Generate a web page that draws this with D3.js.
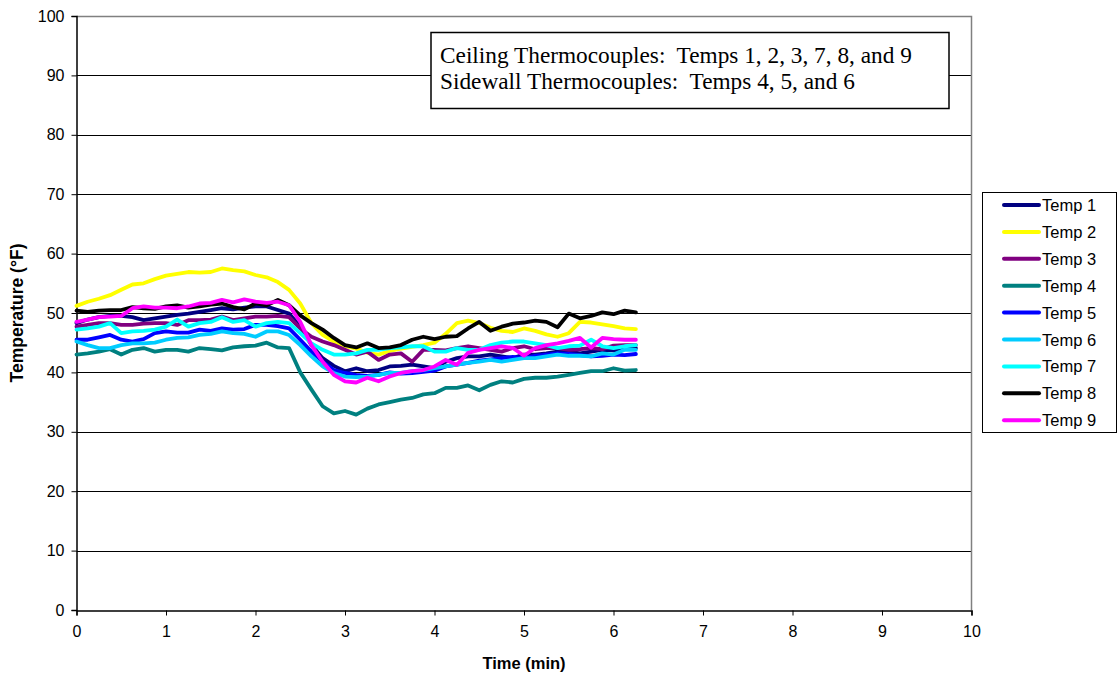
<!DOCTYPE html>
<html><head><meta charset="utf-8">
<script src="https://cdn.jsdelivr.net/npm/d3@7"></script>
<style>body{margin:0;background:#fff}svg{display:block}</style>
</head><body>
<svg id="c" width="1119" height="676"></svg>
<script>
const timeMin = [0,0.125,0.25,0.375,0.5,0.625,0.75,0.875,1,1.125,1.25,1.375,1.5,1.625,1.75,1.875,2,2.125,2.25,2.375,2.5,2.625,2.75,2.875,3,
  3.125,3.25,3.375,3.5,3.625,3.75,3.875,4,4.125,4.25,4.375,4.5,4.625,4.75,4.875,5,5.125,5.25,5.375,5.5,5.625,5.75,5.875,6,6.125,6.25];
const temp1 = [48.3,48.9,49.3,49.5,49.5,49.3,48.8,49.1,49.4,49.7,49.9,50.2,50.5,50.8,50.6,50.9,51.1,51.1,50.5,49.9,47.7,44.6,42.4,41.1,40.2,
  40.7,40.2,40.4,41.0,41.1,41.3,41.0,40.7,41.8,42.4,42.7,42.7,43.0,42.7,42.4,43.0,43.0,43.2,43.5,43.5,43.2,43.5,43.8,43.7,43.9,44.1];
const temp2 = [51.2,51.9,52.4,53.0,53.9,54.8,55.0,55.7,56.3,56.6,56.9,56.8,56.9,57.5,57.2,57.0,56.4,56.0,55.2,53.9,51.6,48.3,46.3,45.2,44.4,
  44.0,43.3,43.0,43.6,44.0,44.3,44.6,45.0,46.5,48.3,48.7,48.3,47.5,47.0,46.8,47.4,47.0,46.4,46.0,46.6,48.5,48.4,48.1,47.8,47.4,47.3];
const temp3 = [47.7,48.0,48.3,48.3,48.0,48.0,48.2,48.3,48.3,48.0,48.8,48.8,48.9,49.4,48.8,49.1,49.4,49.4,49.5,49.3,47.4,46.0,45.2,44.6,43.8,
  43.0,43.5,42.1,43.0,43.2,41.8,43.8,43.8,43.7,44.1,44.4,44.1,43.8,43.5,44.1,44.4,43.9,44.1,44.1,43.8,43.9,44.1,43.9,44.5,44.6,44.6];
const temp4 = [43.0,43.2,43.5,43.9,43.0,43.8,44.1,43.5,43.8,43.8,43.5,44.1,43.9,43.7,44.2,44.4,44.5,45.0,44.2,44.1,40.0,37.1,34.3,33.1,33.5,
  32.9,33.9,34.6,35.0,35.4,35.7,36.3,36.5,37.4,37.4,37.8,37.0,37.9,38.5,38.3,38.9,39.1,39.1,39.3,39.6,39.9,40.2,40.2,40.7,40.3,40.4];
const temp5 = [45.5,45.5,45.9,46.3,45.5,45.2,45.6,46.6,46.9,46.7,46.7,47.2,47.0,47.4,47.2,47.3,48.0,48.0,47.8,47.4,45.5,43.5,41.8,40.4,39.9,
  39.6,39.4,39.6,40.0,39.8,39.9,40.1,40.3,41.0,41.3,41.6,42.0,42.2,42.4,42.6,42.4,42.8,43.0,43.2,43.1,42.9,42.7,42.8,43.0,42.9,43.1];
const temp6 = [45.2,44.6,44.1,44.1,44.6,44.9,44.9,45.0,45.5,45.8,45.9,46.3,46.5,46.9,46.6,46.5,46.0,46.9,46.9,46.3,44.6,42.7,41.0,39.9,39.3,
  39.2,39.3,39.6,39.9,39.9,40.2,40.4,40.7,41.0,41.3,41.6,41.8,42.1,41.8,42.1,42.4,42.4,42.7,43.0,42.8,42.8,42.7,43.2,43.0,43.8,43.8];
const temp7 = [47.2,47.4,47.7,48.3,46.6,46.9,47.0,47.2,47.7,48.9,47.7,48.3,48.5,49.3,48.5,48.8,47.7,48.3,48.5,48.3,46.6,44.9,43.8,43.0,43.0,
  43.2,43.8,43.8,44.1,44.2,44.4,44.4,43.5,43.5,44.1,43.8,43.8,44.6,45.0,45.2,45.2,44.9,44.6,44.1,44.4,44.5,45.5,44.4,44.1,44.4,44.6];
const temp8 = [50.4,50.2,50.4,50.5,50.5,51.0,50.8,50.7,51.1,51.3,50.9,51.1,51.4,51.6,51.0,50.6,51.6,51.3,52.2,51.3,49.6,48.3,47.2,45.8,44.6,
  44.2,44.9,44.1,44.2,44.6,45.5,46.0,45.6,46.0,46.1,47.4,48.5,47.0,47.7,48.2,48.4,48.7,48.5,47.6,49.9,49.1,49.5,50.1,49.8,50.4,50.1];
const temp9 = [48.5,48.9,49.3,49.4,49.5,50.8,51.1,50.9,50.9,50.8,51.1,51.6,51.7,52.2,51.8,52.3,51.9,51.7,51.9,51.3,48.5,44.6,41.8,39.6,38.5,
  38.3,39.1,38.5,39.3,39.9,40.2,40.4,41.0,42.1,41.3,43.3,43.8,44.1,44.4,44.1,42.8,44.1,44.6,44.9,45.3,45.8,44.2,45.8,45.6,45.5,45.5];
const seriesNames = ["Temp 1","Temp 2","Temp 3","Temp 4","Temp 5","Temp 6","Temp 7","Temp 8","Temp 9"];
const seriesColors = ["#000080","#FFFF00","#800080","#008080","#0000FF","#00CCFF","#00FFFF","#000000","#FF00FF"];
const seriesValues = [temp1,temp2,temp3,temp4,temp5,temp6,temp7,temp8,temp9];
const xTicks = [0,1,2,3,4,5,6,7,8,9,10];
const yTicks = [0,10,20,30,40,50,60,70,80,90,100];
const noteLines = ["Ceiling Thermocouples:  Temps 1, 2, 3, 7, 8, and 9","Sidewall Thermocouples:  Temps 4, 5, and 6"];

const svg = d3.select("#c");
const L = 76.5, R = 971.5, T = 16, B = 610;
const x = d3.scaleLinear().domain([0,10]).range([L,R]);
const y = d3.scaleLinear().domain([0,100]).range([B,T]);
const font = "Arial, 'Liberation Sans', sans-serif";

// gridlines
svg.append("g").selectAll("line").data(yTicks.filter(v=>v>0 && v<100)).join("line")
  .attr("x1",L).attr("x2",R).attr("y1",d=>Math.round(y(d))+0.5).attr("y2",d=>Math.round(y(d))+0.5)
  .attr("stroke","#000").attr("stroke-width",1);
// plot border (top/right gray)
svg.append("path").attr("d",`M${L},${T+0.5}H${R}V${B}`).attr("fill","none").attr("stroke","#808080").attr("stroke-width",1.5);

// axes
const xAxis = svg.append("g").attr("transform",`translate(0,${B+0.5})`)
  .call(d3.axisBottom(x).tickValues(xTicks).tickSize(5).tickPadding(10).tickFormat(d3.format("d")));
const yAxis = svg.append("g").attr("transform",`translate(${L},0)`)
  .call(d3.axisLeft(y).tickValues(yTicks).tickSize(5).tickPadding(7).tickFormat(d3.format("d")));
[xAxis,yAxis].forEach(a=>{
  a.select(".domain").attr("stroke","#000").attr("stroke-width",1.5);
  a.selectAll(".tick line").attr("stroke","#000");
  a.selectAll("text").attr("font-family",font).attr("font-size",16).attr("fill","#000");
});

// lines
const line = d3.line().x((d,i)=>x(timeMin[i])).y(d=>y(d)).curve(d3.curveLinear);
svg.append("g").selectAll("path").data(seriesValues).join("path")
  .attr("d",line).attr("fill","none").attr("stroke",(d,i)=>seriesColors[i])
  .attr("stroke-width",3.8).attr("stroke-linejoin","round").attr("stroke-linecap","round");

// axis titles
svg.append("text").attr("x",(L+R)/2).attr("y",669).attr("text-anchor","middle")
  .attr("font-family",font).attr("font-size",16.5).attr("font-weight","bold").text("Time (min)");
svg.append("text").attr("transform",`translate(23,${(T+B)/2}) rotate(-90)`).attr("text-anchor","middle")
  .attr("font-family",font).attr("font-size",17.5).attr("font-weight","bold").text("Temperature (°F)");

// annotation box
const note = svg.append("g");
note.append("rect").attr("x",431).attr("y",32.5).attr("width",518).attr("height",76)
  .attr("fill","#fff").attr("stroke","#000").attr("stroke-width",1.5);
note.selectAll("text").data(noteLines).join("text")
  .attr("x",440).attr("y",(d,i)=>63+i*26).attr("font-family","'Liberation Serif','Times New Roman',serif")
  .attr("font-size",23.3).attr("fill","#000").style("white-space","pre").attr("xml:space","preserve").text(d=>d);

// legend
const lg = svg.append("g");
lg.append("rect").attr("x",982.5).attr("y",192.5).attr("width",134).attr("height",240)
  .attr("fill","#fff").attr("stroke","#000").attr("stroke-width",1);
const items = lg.selectAll("g").data(seriesNames).join("g")
  .attr("transform",(d,i)=>`translate(0,${205+i*26.9})`);
items.append("line").attr("x1",1004).attr("x2",1039).attr("y1",0).attr("y2",0)
  .attr("stroke",(d,i)=>seriesColors[i]).attr("stroke-width",4).attr("stroke-linecap","round");
items.append("text").attr("x",1042).attr("y",6).attr("font-family",font).attr("font-size",16.5)
  .attr("fill","#000").text(d=>d);
</script>
</body></html>
